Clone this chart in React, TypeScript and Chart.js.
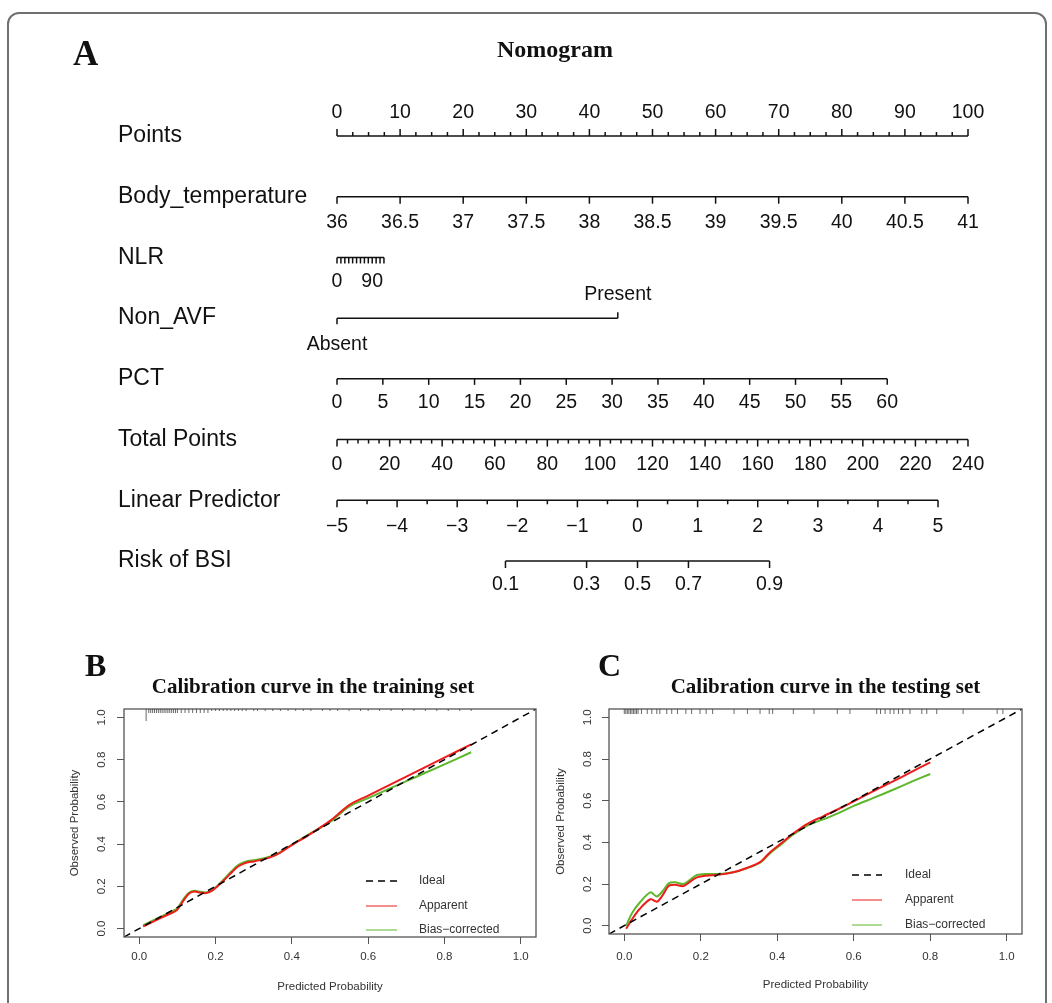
import React, { useEffect, useRef } from 'react';
import { Chart, registerables } from 'chart.js';

Chart.register(...registerables);

const SANS = '"Liberation Sans", Arial, Helvetica, sans-serif';
const SERIF = '"Liberation Serif", "Times New Roman", serif';

// ---------------- Nomogram (panel A) data ----------------
const NOMO_TITLE = 'Nomogram';
const ROW_NAMES = ['Points', 'Body_temperature', 'NLR', 'Non_AVF', 'PCT', 'Total Points', 'Linear Predictor', 'Risk of BSI'];
const POINTS_TICKS = [0, 10, 20, 30, 40, 50, 60, 70, 80, 90, 100];
const POINTS_MINOR_STEP = 2.5;
const BODY_TEMP_TICKS = [36, 36.5, 37, 37.5, 38, 38.5, 39, 39.5, 40, 40.5, 41];
const BODY_TEMP_BASE = 36;
const BODY_TEMP_POINTS_PER_UNIT = 20;
const NLR_TICKS = [0, 10, 20, 30, 40, 50, 60, 70, 80, 90, 100, 110, 120];
const NLR_LABELED = [0, 90];
const NLR_POINTS_PER_UNIT = 0.062;
const NON_AVF_LEVELS = ['Absent', 'Present'];
const NON_AVF_POINTS = [0, 44.5];
const PCT_TICKS = [0, 5, 10, 15, 20, 25, 30, 35, 40, 45, 50, 55, 60];
const PCT_POINTS_PER_UNIT = 1.4533;
const TOTAL_POINTS_TICKS = [0, 20, 40, 60, 80, 100, 120, 140, 160, 180, 200, 220, 240];
const TOTAL_POINTS_MINOR_STEP = 4;
const TOTAL_POINTS_MAX = 240;
const LP_TICKS = [-5, -4, -3, -2, -1, 0, 1, 2, 3, 4, 5];
const LP_MINOR_STEP = 0.5;
const LP_AT_ZERO_TOTAL = -5;
const TOTAL_POINTS_PER_LP = 22.86;
const RISK_TICKS = [0.1, 0.3, 0.5, 0.7, 0.9];

// ---------------- Calibration (panels B, C) data ----------------
const AXIS_TICKS = [0, 0.2, 0.4, 0.6, 0.8, 1.0];
const LEGEND_LABELS = ['Ideal', 'Apparent', 'Bias\u2212corrected'];

const TRAIN_X = [0.01, 0.03, 0.05, 0.07, 0.09, 0.10, 0.115, 0.13, 0.145, 0.16, 0.175, 0.19, 0.205, 0.22, 0.24, 0.26, 0.28, 0.30, 0.33, 0.36, 0.40, 0.45, 0.50, 0.55, 0.60, 0.65, 0.70, 0.75, 0.80, 0.87];
const TRAIN_APPARENT = [0.010, 0.027, 0.045, 0.062, 0.078, 0.090, 0.130, 0.165, 0.175, 0.170, 0.168, 0.178, 0.200, 0.225, 0.262, 0.295, 0.312, 0.318, 0.330, 0.350, 0.395, 0.450, 0.510, 0.585, 0.630, 0.675, 0.720, 0.765, 0.810, 0.872];
const TRAIN_BIAS = [0.015, 0.033, 0.051, 0.068, 0.085, 0.097, 0.137, 0.170, 0.179, 0.174, 0.171, 0.180, 0.203, 0.230, 0.268, 0.302, 0.318, 0.324, 0.334, 0.352, 0.397, 0.452, 0.505, 0.578, 0.618, 0.658, 0.698, 0.738, 0.778, 0.835];
const TRAIN_RUG = [0.018, 0.025, 0.03, 0.035, 0.04, 0.045, 0.05, 0.055, 0.06, 0.065, 0.07, 0.075, 0.08, 0.085, 0.09, 0.095, 0.10, 0.11, 0.12, 0.13, 0.14, 0.15, 0.16, 0.17, 0.18, 0.19, 0.20, 0.21, 0.22, 0.23, 0.24, 0.25, 0.26, 0.27, 0.28, 0.30, 0.31, 0.33, 0.35, 0.37, 0.39, 0.41, 0.43, 0.45, 0.48, 0.50, 0.52, 0.55, 0.58, 0.60, 0.63, 0.66, 0.69, 0.72, 0.75, 0.78, 0.81, 0.84, 0.87];
const TRAIN_RUG_COUNTS = [6, 2, 2, 2, 2, 2, 2, 2, 2, 2, 2, 2, 2, 2, 2, 2, 2, 2, 2, 2, 2, 2, 2, 2, 2, 1, 1, 1, 1, 1, 1, 1, 1, 1, 1, 1, 1, 1, 1, 1, 1, 1, 1, 1, 1, 1, 1, 1, 1, 1, 1, 1, 1, 1, 1, 1, 1, 1, 1];

const TEST_X = [0.005, 0.02, 0.04, 0.068, 0.085, 0.10, 0.116, 0.133, 0.155, 0.175, 0.19, 0.212, 0.25, 0.285, 0.32, 0.355, 0.38, 0.41, 0.44, 0.48, 0.52, 0.56, 0.60, 0.65, 0.70, 0.75, 0.80];
const TEST_APPARENT = [-0.015, 0.030, 0.080, 0.127, 0.115, 0.145, 0.190, 0.196, 0.190, 0.215, 0.232, 0.240, 0.245, 0.256, 0.277, 0.305, 0.350, 0.395, 0.440, 0.490, 0.525, 0.560, 0.597, 0.645, 0.690, 0.737, 0.784];
const TEST_BIAS = [0.000, 0.060, 0.110, 0.160, 0.140, 0.165, 0.203, 0.208, 0.200, 0.225, 0.243, 0.248, 0.248, 0.256, 0.275, 0.302, 0.345, 0.390, 0.435, 0.482, 0.510, 0.540, 0.575, 0.612, 0.650, 0.690, 0.728];
const TEST_RUG = [0.0, 0.004, 0.008, 0.012, 0.016, 0.02, 0.024, 0.028, 0.032, 0.036, 0.045, 0.060, 0.072, 0.085, 0.093, 0.111, 0.124, 0.139, 0.161, 0.176, 0.198, 0.214, 0.231, 0.287, 0.322, 0.355, 0.379, 0.388, 0.442, 0.496, 0.557, 0.590, 0.660, 0.670, 0.682, 0.695, 0.705, 0.717, 0.728, 0.747, 0.778, 0.791, 0.817, 0.886, 0.975, 0.99];
const TEST_RUG_COUNTS = TEST_RUG.map(() => 1);

// ---------------- styles ----------------
const INK = '#111111';
const AXIS_COLOR = '#555555';
const TEXT_COLOR = '#333333';
const RED = '#ee1c1c';
const GREEN = '#5cb82a';

// ---------------- nomogram helpers ----------------
const ptsBody = (t: number) => (t - BODY_TEMP_BASE) * BODY_TEMP_POINTS_PER_UNIT;
const ptsNlr = (n: number) => n * NLR_POINTS_PER_UNIT;
const ptsPct = (p: number) => p * PCT_POINTS_PER_UNIT;
const ptsTotal = (t: number) => (t * 100) / TOTAL_POINTS_MAX;
const ptsLp = (lp: number) => ptsTotal((lp - LP_AT_ZERO_TOTAL) * TOTAL_POINTS_PER_LP);
const ptsRisk = (r: number) => ptsLp(Math.log(r / (1 - r)));
const fmtMinus = (v: number) => (v < 0 ? '\u2212' + Math.abs(v) : String(v));

type Tick = { p: number; len: number; label?: string; off?: number };

function minorTicks(from: number, to: number, step: number, majors: number[], map: (v: number) => number, len: number): Tick[] {
  const out: Tick[] = [];
  for (let v = from; v <= to + 1e-9; v += step) {
    if (!majors.some((m) => Math.abs(m - v) < 1e-9)) out.push({ p: map(v), len });
  }
  return out;
}

function nomoRows(): { from: number; to: number; ticks: Tick[] }[] {
  const rows: { from: number; to: number; ticks: Tick[] }[] = [];
  rows.push({
    from: 0, to: 100,
    ticks: [
      ...POINTS_TICKS.map((v) => ({ p: v, len: -7, label: String(v), off: -23 })),
      ...minorTicks(0, 100, POINTS_MINOR_STEP, POINTS_TICKS, (v) => v, -4),
    ],
  });
  rows.push({
    from: ptsBody(BODY_TEMP_TICKS[0]), to: ptsBody(BODY_TEMP_TICKS[BODY_TEMP_TICKS.length - 1]),
    ticks: BODY_TEMP_TICKS.map((v) => ({ p: ptsBody(v), len: 7, label: String(v), off: 26 })),
  });
  rows.push({
    from: ptsNlr(NLR_TICKS[0]), to: ptsNlr(NLR_TICKS[NLR_TICKS.length - 1]),
    ticks: NLR_TICKS.map((v) => ({ p: ptsNlr(v), len: 6, label: NLR_LABELED.includes(v) ? String(v) : undefined, off: 24 })),
  });
  rows.push({
    from: NON_AVF_POINTS[0], to: NON_AVF_POINTS[1],
    ticks: [
      { p: NON_AVF_POINTS[0], len: 6, label: NON_AVF_LEVELS[0], off: 26 },
      { p: NON_AVF_POINTS[1], len: -6, label: NON_AVF_LEVELS[1], off: -24 },
    ],
  });
  rows.push({
    from: ptsPct(PCT_TICKS[0]), to: ptsPct(PCT_TICKS[PCT_TICKS.length - 1]),
    ticks: PCT_TICKS.map((v) => ({ p: ptsPct(v), len: 6, label: String(v), off: 24 })),
  });
  rows.push({
    from: 0, to: ptsTotal(TOTAL_POINTS_MAX),
    ticks: [
      ...TOTAL_POINTS_TICKS.map((v) => ({ p: ptsTotal(v), len: 7, label: String(v), off: 25 })),
      ...minorTicks(0, TOTAL_POINTS_MAX, TOTAL_POINTS_MINOR_STEP, TOTAL_POINTS_TICKS, ptsTotal, 4),
    ],
  });
  rows.push({
    from: ptsLp(LP_TICKS[0]), to: ptsLp(LP_TICKS[LP_TICKS.length - 1]),
    ticks: [
      ...LP_TICKS.map((v) => ({ p: ptsLp(v), len: 7, label: fmtMinus(v), off: 26 })),
      ...minorTicks(LP_TICKS[0], LP_TICKS[LP_TICKS.length - 1], LP_MINOR_STEP, LP_TICKS, ptsLp, 4),
    ],
  });
  rows.push({
    from: ptsRisk(RISK_TICKS[0]), to: ptsRisk(RISK_TICKS[RISK_TICKS.length - 1]),
    ticks: RISK_TICKS.map((v) => ({ p: ptsRisk(v), len: 7, label: String(v), off: 24 })),
  });
  return rows;
}

function buildNomoConfig(): any {
  const rows = nomoRows();
  const plugin = {
    id: 'nomoDecor',
    afterDatasetsDraw(chart: any) {
      const { ctx } = chart;
      const xs = chart.scales.x;
      const ys = chart.scales.y;
      ctx.save();
      ctx.strokeStyle = INK;
      ctx.fillStyle = INK;
      ctx.lineWidth = 1.5;
      rows.forEach((row, ri) => {
        const y = ys.getPixelForValue(ri);
        row.ticks.forEach((t) => {
          const x = xs.getPixelForValue(t.p);
          ctx.beginPath();
          ctx.moveTo(x, y);
          ctx.lineTo(x, y + t.len);
          ctx.stroke();
          if (t.label !== undefined) {
            ctx.font = `19.5px ${SANS}`;
            ctx.textAlign = 'center';
            ctx.textBaseline = 'middle';
            ctx.fillText(t.label, x, y + (t.off || 0));
          }
        });
        ctx.font = `23px ${SANS}`;
        ctx.textAlign = 'left';
        ctx.textBaseline = 'middle';
        ctx.fillText(ROW_NAMES[ri], 118, y);
      });
      ctx.textBaseline = 'alphabetic';
      ctx.font = `bold 24px ${SERIF}`;
      ctx.textAlign = 'center';
      ctx.fillText(NOMO_TITLE, 555, 57);
      ctx.font = `bold 35px ${SERIF}`;
      ctx.textAlign = 'left';
      ctx.fillText('A', 73, 65);
      ctx.restore();
    },
  };
  return {
    type: 'line',
    data: {
      datasets: rows.map((row, i) => ({
        data: [{ x: row.from, y: i }, { x: row.to, y: i }],
        borderColor: INK,
        borderWidth: 1.5,
        pointRadius: 0,
        clip: false,
      })),
    },
    options: {
      animation: false,
      responsive: false,
      layout: { padding: { left: 337, right: 84, top: 136, bottom: 69 } },
      plugins: { legend: { display: false }, tooltip: { enabled: false }, title: { display: false } },
      scales: {
        x: { type: 'linear', min: 0, max: 100, display: false },
        y: { type: 'linear', min: 0, max: ROW_NAMES.length - 1, reverse: true, display: false },
      },
    },
    plugins: [plugin],
  };
}

type CalibData = { letter: string; title: string; xs: number[]; apparent: number[]; bias: number[]; rug: number[]; rugCounts: number[] };
type CalibGeom = {
  padding: { left: number; right: number; top: number; bottom: number };
  yWidth: number; xHeight: number; yTickPad: number; xTickPad: number; yTitlePad: number; xTitlePad: number;
  letterX: number; letterBaseline: number; titleX: number; titleBaseline: number;
  legendDx: number[]; legendDy: number[]; rugLenPerCount: number;
};

function buildCalibConfig(d: CalibData, g: CalibGeom): any {
  const pts = (ys: number[]) => d.xs.map((x, i) => ({ x, y: ys[i] }));
  const tickFont = { family: SANS, size: 11.5 };
  const plugin = {
    id: 'calibDecor',
    afterDraw(chart: any) {
      const { ctx, chartArea: a } = chart;
      const xs = chart.scales.x;
      ctx.save();
      ctx.strokeStyle = AXIS_COLOR;
      ctx.lineWidth = 1.3;
      ctx.strokeRect(a.left, a.top, a.right - a.left, a.bottom - a.top);
      ctx.strokeStyle = '#444';
      ctx.lineWidth = 0.8;
      d.rug.forEach((v, i) => {
        const x = xs.getPixelForValue(v);
        ctx.beginPath();
        ctx.moveTo(x, a.top);
        ctx.lineTo(x, a.top + d.rugCounts[i] * g.rugLenPerCount);
        ctx.stroke();
      });
      // legend
      const styles = [
        { c: '#000', w: 1.5, dash: [7, 5] },
        { c: RED, w: 1, dash: [] },
        { c: GREEN, w: 1, dash: [] },
      ];
      LEGEND_LABELS.forEach((lab, i) => {
        const y = a.bottom + g.legendDy[i];
        const s = styles[i];
        ctx.strokeStyle = s.c;
        ctx.lineWidth = s.w;
        ctx.setLineDash(s.dash);
        ctx.beginPath();
        ctx.moveTo(a.right + g.legendDx[0], y);
        ctx.lineTo(a.right + g.legendDx[1], y);
        ctx.stroke();
        ctx.setLineDash([]);
        ctx.fillStyle = TEXT_COLOR;
        ctx.font = `12px ${SANS}`;
        ctx.textAlign = 'left';
        ctx.textBaseline = 'middle';
        ctx.fillText(lab, a.right + g.legendDx[2], y);
      });
      ctx.fillStyle = INK;
      ctx.textBaseline = 'alphabetic';
      ctx.font = `bold 32px ${SERIF}`;
      ctx.textAlign = 'left';
      ctx.fillText(d.letter, g.letterX, g.letterBaseline);
      ctx.font = `bold 21px ${SERIF}`;
      ctx.textAlign = 'center';
      ctx.fillText(d.title, g.titleX, g.titleBaseline);
      ctx.restore();
    },
  };
  return {
    type: 'line',
    data: {
      datasets: [
        { label: 'Ideal', data: [{ x: -0.04, y: -0.04 }, { x: 1.04, y: 1.04 }], borderColor: '#000', borderWidth: 1.5, borderDash: [7, 5], pointRadius: 0 },
        { label: 'Apparent', data: pts(d.apparent), borderColor: RED, borderWidth: 2, pointRadius: 0, tension: 0.3 },
        { label: 'Bias-corrected', data: pts(d.bias), borderColor: GREEN, borderWidth: 2, pointRadius: 0, tension: 0.3 },
      ],
    },
    options: {
      animation: false,
      responsive: false,
      layout: { padding: g.padding },
      plugins: { legend: { display: false }, tooltip: { enabled: false }, title: { display: false } },
      scales: {
        x: {
          type: 'linear', min: -0.04, max: 1.04,
          afterBuildTicks: (s: any) => { s.ticks = AXIS_TICKS.map((v) => ({ value: v })); },
          afterFit: (s: any) => { s.height = g.xHeight; },
          grid: { drawOnChartArea: false, drawTicks: true, tickLength: 7, color: AXIS_COLOR, lineWidth: 1 },
          border: { display: false },
          ticks: { color: TEXT_COLOR, font: tickFont, padding: g.xTickPad, maxRotation: 0, autoSkip: false, callback: (v: any) => Number(v).toFixed(1) },
          title: { display: true, text: 'Predicted Probability', color: TEXT_COLOR, font: tickFont, padding: { top: 0, bottom: g.xTitlePad } },
        },
        y: {
          type: 'linear', min: -0.04, max: 1.04,
          afterBuildTicks: (s: any) => { s.ticks = AXIS_TICKS.map((v) => ({ value: v })); },
          afterFit: (s: any) => { s.width = g.yWidth; },
          grid: { drawOnChartArea: false, drawTicks: true, tickLength: 7, color: AXIS_COLOR, lineWidth: 1 },
          border: { display: false },
          ticks: { color: TEXT_COLOR, font: tickFont, padding: g.yTickPad, minRotation: 90, maxRotation: 90, crossAlign: 'center', autoSkip: false, callback: (v: any) => Number(v).toFixed(1) },
          title: { display: true, text: 'Observed Probability', color: TEXT_COLOR, font: tickFont, padding: { top: g.yTitlePad, bottom: 0 } },
        },
      },
    },
    plugins: [plugin],
  };
}

const TRAIN: CalibData = { letter: 'B', title: 'Calibration curve in the training set', xs: TRAIN_X, apparent: TRAIN_APPARENT, bias: TRAIN_BIAS, rug: TRAIN_RUG, rugCounts: TRAIN_RUG_COUNTS };
const TEST: CalibData = { letter: 'C', title: 'Calibration curve in the testing set', xs: TEST_X, apparent: TEST_APPARENT, bias: TEST_BIAS, rug: TEST_RUG, rugCounts: TEST_RUG_COUNTS };

const GEOM_B: CalibGeom = {
  padding: { left: 40, right: 9, top: 79, bottom: 0 },
  yWidth: 84, xHeight: 66, yTickPad: 7, xTickPad: 6, yTitlePad: 28, xTitlePad: 9,
  letterX: 85, letterBaseline: 46, titleX: 313, titleBaseline: 63,
  legendDx: [-170, -139, -117], legendDy: [-56, -31, -7], rugLenPerCount: 2,
};
const GEOM_C: CalibGeom = {
  padding: { left: 0, right: 30, top: 79, bottom: 0 },
  yWidth: 64, xHeight: 69, yTickPad: 6, xTickPad: 9, yTitlePad: 9, xTitlePad: 11,
  letterX: 53, letterBaseline: 46, titleX: 280.5, titleBaseline: 63,
  legendDx: [-170, -140, -117], legendDy: [-59, -34, -9], rugLenPerCount: 5,
};

export default function App() {
  const nomoRef = useRef<HTMLCanvasElement>(null);
  const bRef = useRef<HTMLCanvasElement>(null);
  const cRef = useRef<HTMLCanvasElement>(null);
  useEffect(() => {
    const charts = [
      new Chart(nomoRef.current as HTMLCanvasElement, buildNomoConfig()),
      new Chart(bRef.current as HTMLCanvasElement, buildCalibConfig(TRAIN, GEOM_B)),
      new Chart(cRef.current as HTMLCanvasElement, buildCalibConfig(TEST, GEOM_C)),
    ];
    return () => charts.forEach((c) => c.destroy());
  }, []);
  return (
    <div style={{ position: 'absolute', left: 0, top: 0, width: 1052, height: 1003, overflow: 'hidden', background: '#fff' }}>
      <div style={{ position: 'absolute', left: 7, top: 12, width: 1040, height: 1010, border: '2px solid #707070', borderRadius: 12, boxSizing: 'border-box' }} />
      <canvas ref={nomoRef} width={1052} height={630} style={{ position: 'absolute', left: 0, top: 0 }} />
      <canvas ref={bRef} width={545} height={373} style={{ position: 'absolute', left: 0, top: 630 }} />
      <canvas ref={cRef} width={507} height={373} style={{ position: 'absolute', left: 545, top: 630 }} />
    </div>
  );
}
